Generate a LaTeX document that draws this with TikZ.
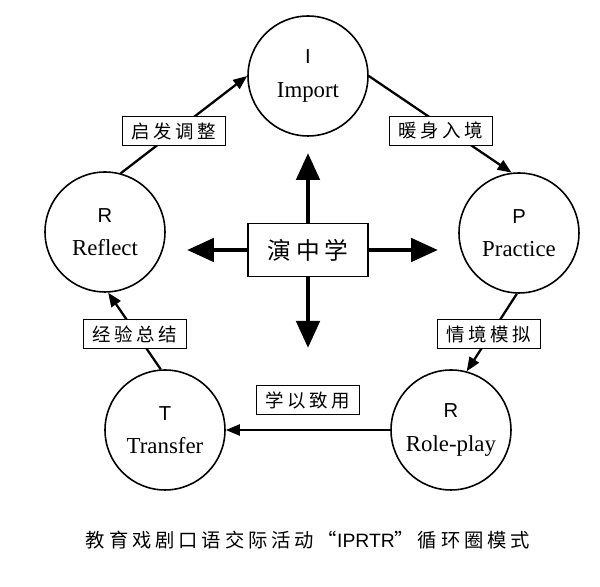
\documentclass[tikz,border=0pt]{standalone}
\usepackage{fontspec}
\setmainfont{Liberation Serif}
\newfontfamily\cjk[LetterSpace=20]{Noto Sans CJK SC}
\newfontfamily\letterfont{Liberation Sans}
\usetikzlibrary{arrows.meta}

\begin{document}
\begin{tikzpicture}[x = 0.02cm, y = -0.02cm,
        phase/.style = {draw, line width = 0.9pt, circle, minimum size = 2.4cm,
            inner sep = 0pt, align = center, font = \fontsize{13}{19}\selectfont},
        tag/.style = {draw, line width = 0.9pt, fill = white, minimum width = 2.06cm,
            minimum height = 0.58cm, inner sep = 0pt, font = \cjk\fontsize{10.5}{12}\selectfont},
        cycle/.style = {line width = 1.3pt, -{Triangle[length = 0.28cm, width = 0.22cm]}},
        push/.style = {line width = 2.8pt, -{Triangle[length = 0.54cm, width = 0.46cm]}}]
        \useasboundingbox (0, 0) rectangle (600, 587);

        % Kreise
        \node [phase] (import) at (308, 76) {{\letterfont\fontsize{11.5}{19}\selectfont I}\\Import};
        \node [phase] (practice) at (519, 233) {{\letterfont\fontsize{11.5}{19}\selectfont P}\\Practice};
        \node [phase] (roleplay) at (451, 430) {{\letterfont\fontsize{11.5}{19}\selectfont R}\\Role-play};
        \node [phase] (transfer) at (165, 430) {{\letterfont\fontsize{11.5}{19}\selectfont T}\\Transfer};
        \node [phase] (reflect) at (105, 232) {{\letterfont\fontsize{11.5}{19}\selectfont R}\\Reflect};

        % Kreislauf
        \draw [cycle] (reflect.75) -- (import.180);
        \draw [cycle] (import.0) -- (practice.97);
        \draw [cycle] (practice.-92) -- (roleplay.75);
        \draw [cycle] (roleplay.180) -- (transfer.0);
        \draw [cycle] (transfer.94) -- (reflect.-87);

        \node [tag] (inspire) at (174, 131) {启发调整};
        \node [tag] (warmup) at (441, 131) {暖身入境};
        \node [tag] (simulate) at (489, 334) {情境模拟};
        \node [tag] (apply) at (308, 400) {学以致用};
        \node [tag] (summary) at (135, 334) {经验总结};

        % Mitte
        \node [draw, line width = 0.9pt, minimum width = 2.4cm, minimum height = 1.06cm,
            font = \cjk\fontsize{13.5}{15}\selectfont] (hub) at (308, 250) {演中学};
        \coordinate (pushup) at (308, 153);
        \coordinate (pushdown) at (308, 348);
        \coordinate (pushleft) at (187, 250);
        \coordinate (pushright) at (438, 250);
        \draw [push] (hub.north) -- (pushup);
        \draw [push] (hub.south) -- (pushdown);
        \draw [push] (hub.west) -- (pushleft);
        \draw [push] (hub.east) -- (pushright);

        % Titel
        \node [font = \cjk\fontsize{11}{12}\selectfont] (title) at (308, 540)
            {教育戏剧口语交际活动“{\letterfont IPRTR}”循环圈模式};
    \end{tikzpicture}
\end{document}
